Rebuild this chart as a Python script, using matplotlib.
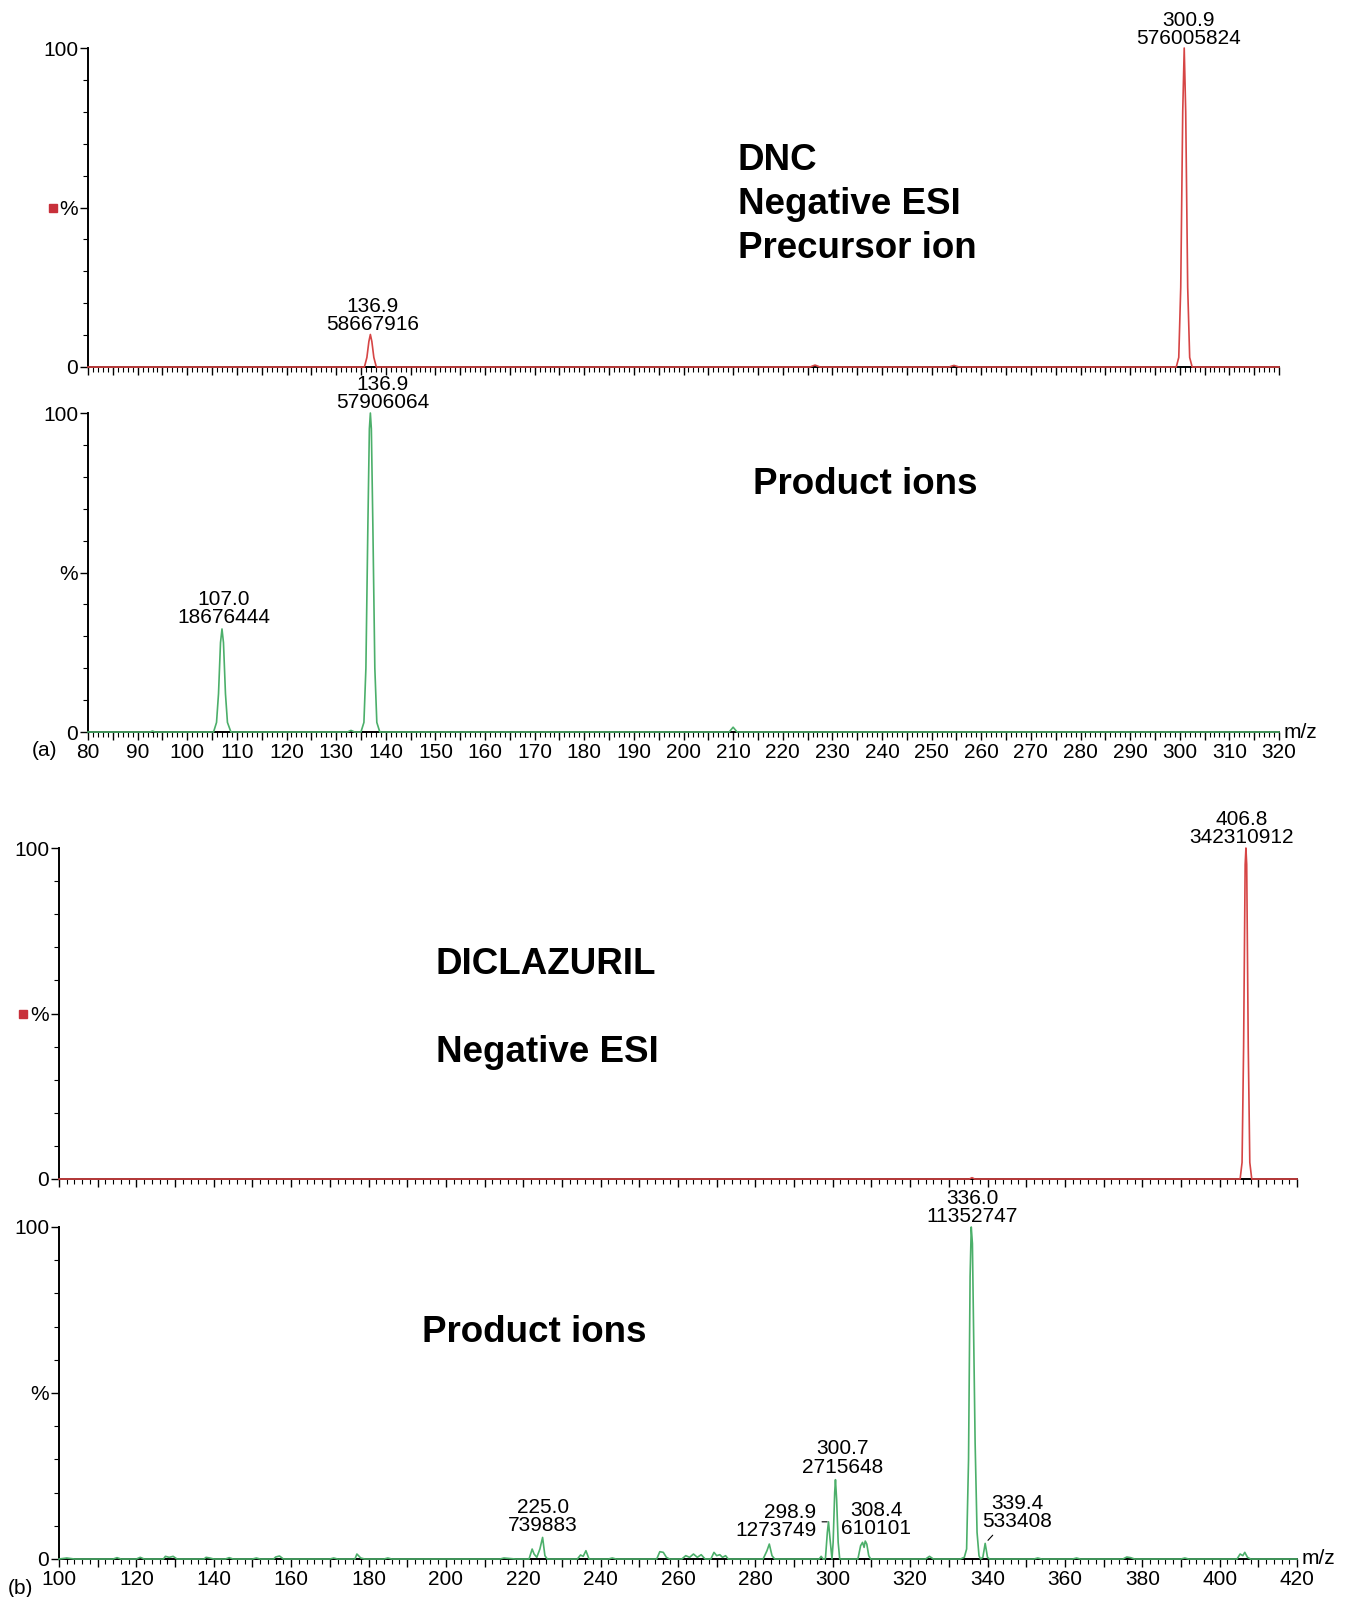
import numpy as np
import matplotlib.pyplot as plt
from matplotlib.ticker import MultipleLocator, FuncFormatter

plt.rcParams['font.family'] = ['Liberation Sans', 'DejaVu Sans']

W, H = 1348, 1597
RED = '#d64545'
GREEN = '#4caf6a'

# (a) DNC precursor scan, relative intensity (%)
dnc_prec_mz = [80, 135.7, 136.2, 136.6, 136.9, 137.2, 137.6, 138.1, 225.5, 226.5, 227.5,
               253.5, 254.5, 255.5,
               299.3, 299.8, 300.2, 300.6, 300.9, 301.2, 301.6, 302.0, 302.5, 320]
dnc_prec_int = [0, 0, 3, 8, 10.2, 8, 3, 0, 0, 0.6, 0,
                0, 0.5, 0,
                0, 3, 25, 80, 100, 80, 25, 3, 0, 0]

# (a) DNC product ions
dnc_prod_mz = [80, 92.5, 93, 93.5, 105.3, 105.9, 106.3, 106.7, 107.0, 107.3, 107.7, 108.1, 108.8,
               132.3, 133, 133.7, 135.0, 135.6, 136.0, 136.4, 136.7, 136.9, 137.1, 137.4,
               137.8, 138.2, 138.8, 209.2, 210, 210.8, 320]
dnc_prod_int = [0, 0, 0.3, 0, 0, 3, 12, 28, 32.3, 28, 12, 3, 0,
                0, 0.5, 0, 0, 3, 20, 65, 95, 100, 95, 65,
                20, 3, 0, 0, 1.5, 0, 0]

# (b) Diclazuril precursor scan
dic_prec_mz = [100, 335.3, 336, 336.7, 405.3, 405.8, 406.2, 406.6, 406.8, 407.0, 407.4,
               407.8, 408.3, 420]
dic_prec_int = [0, 0, 0.4, 0, 0, 5, 40, 95, 100, 95, 40, 5, 0, 0]

# (b) Diclazuril product ions
dic_prod_mz = [100, 102, 104, 114, 115, 116, 120, 121, 122, 127, 127.5, 128.5, 129.5, 130.5,
               137.5, 138, 139, 140, 143, 144, 145, 150, 151, 152, 155.5, 156, 157, 158,
               170, 171, 172, 176.5, 177, 178, 179, 184, 185, 186, 214, 215, 216, 218,
               221.5, 222.3, 222.8, 223.5, 224.3, 225.0, 225.6, 226.2,
               234, 234.8, 235.5, 236.2, 237, 242, 243, 244,
               254.5, 255.3, 256.2, 257, 257.8, 261, 262, 263, 264, 265, 266, 267,
               268.5, 269.3, 270, 270.8, 271.5, 272.3, 273,
               282, 283, 283.6, 284.3, 285, 296.5, 297, 297.5,
               298.1, 298.6, 298.9, 299.3, 299.8, 300.1, 300.5, 300.7, 301.0, 301.4, 301.8,
               306.5, 307.2, 307.7, 308.1, 308.4, 308.8, 309.3, 309.8, 324, 325, 326,
               333, 334, 334.6, 335.1, 335.5, 335.8, 336.1, 336.4, 336.8, 337.3, 337.8, 338.2,
               338.8, 339.4, 340, 340.5, 352, 353, 354, 362, 363, 364,
               375, 376, 377, 378, 390, 391, 392, 404.5, 405.3, 406, 406.5, 407.2, 408, 420]
dic_prod_int = [0, 0.3, 0, 0, 0.4, 0, 0, 0.5, 0, 0, 0.8, 0.5, 0.8, 0,
                0, 0.5, 0.3, 0, 0, 0.4, 0, 0, 0.3, 0, 0, 0.6, 0.9, 0,
                0, 0.3, 0, 0, 1.5, 0.3, 0, 0, 0.3, 0, 0, 0.3, 0.2, 0,
                0, 3, 1.5, 0.5, 3, 6.5, 1, 0,
                0, 1.2, 0.8, 2.5, 0, 0, 0.3, 0,
                0, 2.2, 2, 0.5, 0, 0, 1, 0.5, 1.5, 0.5, 1.3, 0,
                0, 2, 1, 1.3, 0.5, 1, 0,
                0, 2.5, 4.5, 1, 0, 0, 0.8, 0,
                0, 8, 11.2, 6, 0, 5, 20, 23.9, 18, 5, 0,
                0, 4, 5, 3.5, 5.4, 4.5, 1, 0, 0, 0.8, 0,
                0, 0.5, 3, 30, 85, 100, 95, 70, 35, 8, 1, 0,
                0.5, 4.7, 0.5, 0, 0, 0.3, 0, 0, 0.3, 0,
                0, 0.6, 0.4, 0, 0, 0.3, 0, 0, 1.5, 1, 2, 0.5, 0, 0]

# peak labels: m/z, abundance, relative height, text offset (px)
dnc_prec_labels = [(300.9, 576005824, 100, 4, 0),
                   (136.9, 58667916, 10.2, 2, 0)]
dnc_prod_labels = [(136.9, 57906064, 100, 12, 1),
                   (107.0, 18676444, 32.3, 2, 2)]
dic_prec_labels = [(406.8, 342310912, 100, -4, 1)]
dic_prod_labels = [(336.0, 11352747, 100, 0, 1),
                   (300.7, 2715648, 23.9, 7, 3),
                   (308.4, 610101, 5.4, 11, 3),
                   (225.0, 739883, 6.5, 0, 2)]


def setup(ax, xmin, xmax, major, minor, label_every, show_xlabels, marker):
    ax.set_xlim(xmin, xmax)
    ax.set_ylim(0, 100)
    for s in ['top', 'right']:
        ax.spines[s].set_visible(False)
    for s in ['left', 'bottom']:
        ax.spines[s].set_linewidth(1.4)
        ax.spines[s].set_zorder(1)
    ax.xaxis.set_major_locator(MultipleLocator(major))
    ax.xaxis.set_minor_locator(MultipleLocator(minor))
    if show_xlabels:
        ax.xaxis.set_major_formatter(FuncFormatter(
            lambda v, p: f"{v:.0f}" if round(v) % label_every == 0 else ""))
    else:
        ax.xaxis.set_major_formatter(FuncFormatter(lambda v, p: ""))
    ax.set_yticks([0, 50, 100])
    ax.set_yticklabels(['0', '%', '100'])
    ax.yaxis.set_minor_locator(MultipleLocator(10))
    ax.tick_params(axis='both', which='major', direction='out', length=6, width=1.0,
                   labelsize=15, pad=2)
    ax.tick_params(axis='both', which='minor', direction='out', length=3.5, width=0.8)
    ax.tick_params(axis='y', which='major', pad=1)
    if marker:
        ax.plot([-0.029], [50], marker='s', ms=6, color='#c8303a',
                transform=ax.get_yaxis_transform(), clip_on=False)


def labels(ax, items):
    for mz, ab, h, dx, dy in items:
        ax.annotate(f"{mz:.1f}\n{ab}", xy=(mz, h), xytext=(dx, dy),
                    textcoords='offset pixels', ha='center', va='bottom',
                    fontsize=15, linespacing=0.95, zorder=5)


fig = plt.figure(figsize=(W / 100, H / 100), dpi=100)


def add_ax(left, top, right, bottom):
    return fig.add_axes([left / W, 1 - bottom / H, (right - left) / W, (bottom - top) / H])


ax1 = add_ax(88, 48, 1279, 367)
ax2 = add_ax(88, 413, 1279, 732)
ax3 = add_ax(59, 848, 1297, 1179)
ax4 = add_ax(59, 1227, 1297, 1559)

setup(ax1, 80, 320, 5, 1, 10, False, True)
setup(ax2, 80, 320, 5, 1, 10, True, False)
setup(ax3, 100, 420, 10, 2, 20, False, True)
setup(ax4, 100, 420, 10, 2, 20, True, False)

ax1.plot(dnc_prec_mz, dnc_prec_int, color=RED, lw=1.2, clip_on=False, zorder=3)
ax2.plot(dnc_prod_mz, dnc_prod_int, color=GREEN, lw=1.2, clip_on=False, zorder=3)
ax3.plot(dic_prec_mz, dic_prec_int, color=RED, lw=1.2, clip_on=False, zorder=3)
ax4.plot(dic_prod_mz, dic_prod_int, color=GREEN, lw=1.2, clip_on=False, zorder=3)

labels(ax1, dnc_prec_labels)
labels(ax2, dnc_prod_labels)
labels(ax3, dic_prec_labels)
labels(ax4, dic_prod_labels)

# labels with leader lines
ax4.annotate("298.9\n1273749", xy=(298.9, 11.2), xytext=(-12, 0), textcoords='offset pixels',
             ha='right', va='center', fontsize=15, linespacing=0.95,
             arrowprops=dict(arrowstyle='-', lw=0.8, color='black', relpos=(1, 0.5),
                             shrinkA=2, shrinkB=1))
ax4.annotate("339.4\n533408", xy=(339.4, 4.7), xytext=(32, 12), textcoords='offset pixels',
             ha='center', va='bottom', fontsize=15, linespacing=0.95,
             arrowprops=dict(arrowstyle='-', lw=0.8, color='black', relpos=(0.2, 0),
                             shrinkA=1, shrinkB=3))

# m/z axis labels and panel tags
for ax in (ax2, ax4):
    ax.text(1.004, 0.0, "m/z", transform=ax.transAxes, fontsize=15, ha='left', va='center')
fig.text(44 / W, 1 - 750 / H, "(a)", fontsize=15, ha='center', va='center')
fig.text(20 / W, 1 - 1588 / H, "(b)", fontsize=15, ha='center', va='center')

# titles inside panels
bold = dict(fontsize=26.5, fontweight='bold', ha='left', va='center')
fig.text(738 / W, 1 - 161 / H, "DNC", **bold)
fig.text(738 / W, 1 - 205 / H, "Negative ESI", **bold)
fig.text(738 / W, 1 - 249 / H, "Precursor ion", **bold)
fig.text(753 / W, 1 - 485 / H, "Product ions", **bold)
fig.text(436 / W, 1 - 965 / H, "DICLAZURIL", **bold)
fig.text(436 / W, 1 - 1053 / H, "Negative ESI", **bold)
fig.text(422 / W, 1 - 1333 / H, "Product ions", **bold)

fig.savefig("out.png", dpi=100)
